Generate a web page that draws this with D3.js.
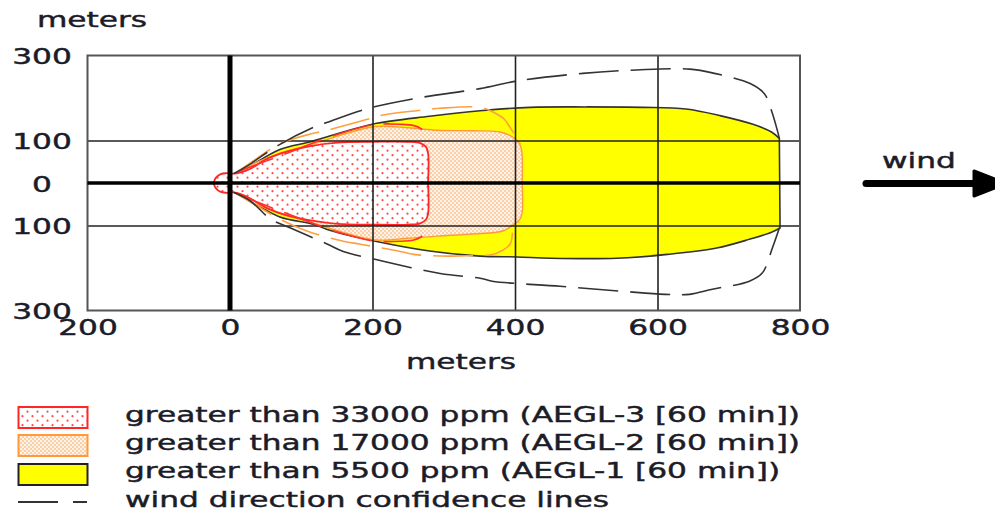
<!DOCTYPE html>
<html><head><meta charset="utf-8">
<script src="https://cdn.jsdelivr.net/npm/d3@7"></script>
<style>body{margin:0;background:#fff}svg{display:block}</style>
</head><body>
<svg id="c" width="995" height="511"></svg>
<script>
// ---- data (meters) ----
const xTicks = [-200, 0, 200, 400, 600, 800];
const yTicks = [300, 100, 0, -100, -300];
const xGrid = [200, 400, 600];
const yGrid = [100, -100];

const yellowTop = [[3,19],[24,36],[70,79],[113,97],[141,111],[201,139],[280,157],[351,170],[421,178],[500,179],[580,178],[640,174],[689,158],[734,138],[760,120],[771,105]];
const yellowBottom = [[3,-19],[29,-43],[70,-80],[117,-97],[141,-112],[204,-137],[280,-160],[351,-172],[403,-174],[450,-177],[543,-177],[614,-168],[683,-153],[730,-132],[760,-116],[772,-106]];

const orangeTop = [[5,20],[29,42],[70,70],[113,90],[160,115],[204,133],[250,130],[291,124],[340,123],[379,120],[395,110],[405,96],[409,80],[410,0]];
const orangeBottom = [[5,-20],[29,-44],[70,-72],[113,-92],[160,-117],[204,-134],[250,-130],[291,-125],[340,-120],[383,-113],[397,-99],[407,-85],[410,-70],[410,0]];

const redTop = [[-23,0],[-20,12],[-13,21],[-5,23],[5,22],[15,25],[28,33],[52,57],[80,74],[113,87],[151,95],[200,97],[250,97],[267,94],[275,85],[278,70],[278,0]];
const redBottom = [[-23,0],[-20,-12],[-13,-21],[-5,-23],[5,-22],[15,-26],[28,-36],[52,-59],[80,-76],[113,-88],[151,-96],[200,-98],[250,-98],[267,-95],[275,-86],[278,-72],[278,0]];

const confBlackTop = [[5,22],[25,41],[67,88],[117,131],[137,143],[193,175],[267,201],[351,222],[403,240],[495,258],[571,266],[645,268],[680,258],[730,234],[750,210],[760,170],[768,125],[771,105]];
const confBlackBottom = [[5,-22],[29,-43],[57,-85],[85,-106],[137,-144],[159,-161],[215,-184],[295,-213],[351,-224],[368,-231],[463,-243],[552,-255],[610,-262],[645,-262],[677,-250],[729,-231],[747,-212],[761,-154],[771,-106]];

const confOrangeTop = [[10,26],[29,48],[71,93],[117,117],[141,126],[193,150],[215,160],[267,171],[295,176],[351,178],[369,167],[385,150],[393,131],[403,105],[408,92]];
const confOrangeBottom = [[10,-26],[38,-54],[70,-85],[108,-113],[159,-137],[183,-144],[239,-161],[258,-168],[305,-172],[351,-170],[369,-168],[393,-144],[398,-106],[406,-92]];

const confRedTop = [[8,24],[40,45],[80,70],[113,92],[150,114],[200,137],[240,138],[258,135],[268,128],[275,115],[278,100]];
const confRedBottom = [[8,-24],[40,-46],[80,-72],[113,-93],[150,-115],[200,-136],[240,-137],[258,-134],[268,-127],[275,-114],[278,-100]];

const legendLabels = [
  "greater than 33000 ppm (AEGL-3 [60 min])",
  "greater than 17000 ppm (AEGL-2 [60 min])",
  "greater than 5500 ppm (AEGL-1 [60 min])",
  "wind direction confidence lines"
];

// ---- drawing ----
const SX = 1.42;
const FONT = "'DejaVu Sans', Verdana, sans-serif";
const TXT = "#1c1c28";
const svg = d3.select("#c");

const x = d3.scaleLinear().domain([-200, 800]).range([87.5, 800]);
const y = d3.scaleLinear().domain([-300, 300]).range([310.5, 55.5]);

const defs = svg.append("defs");
const pr = defs.append("pattern").attr("id","redDots").attr("patternUnits","userSpaceOnUse").attr("width",10).attr("height",9);
pr.append("rect").attr("width",10).attr("height",9).attr("fill","#fff");
pr.append("circle").attr("cx",2.5).attr("cy",2.2).attr("r",1.1).attr("fill","#ff4a4a");
pr.append("circle").attr("cx",7.5).attr("cy",6.7).attr("r",1.1).attr("fill","#ff4a4a");
const po = defs.append("pattern").attr("id","peach").attr("patternUnits","userSpaceOnUse").attr("width",4).attr("height",4);
po.append("rect").attr("width",4).attr("height",4).attr("fill","#fcd0a6");
po.append("circle").attr("cx",1).attr("cy",1).attr("r",1).attr("fill","#fff");
po.append("circle").attr("cx",3).attr("cy",3).attr("r",1).attr("fill","#fff");

const line = d3.line().x(d => x(d[0])).y(d => y(d[1])).curve(d3.curveCatmullRom.alpha(0.5));
function zonePath(top, bottom) {
  const a = line(top);
  const b = line(bottom.slice().reverse());
  return a + "L" + b.slice(1) + "Z";
}

// zones
svg.append("path").attr("d", zonePath(yellowTop, yellowBottom))
  .attr("fill","#ffff00").attr("stroke","#333").attr("stroke-width",1.6);
svg.append("path").attr("d", zonePath(orangeTop, orangeBottom))
  .attr("fill","url(#peach)").attr("stroke","#ff9a3c").attr("stroke-width",1.4);
svg.append("path").attr("d", zonePath(redTop, redBottom))
  .attr("fill","url(#redDots)").attr("stroke","#ff2626").attr("stroke-width",1.8);

// grid
const gg = svg.append("g");
gg.append("g").attr("transform",`translate(0,${y(-300)})`)
  .call(d3.axisBottom(x).tickValues(xGrid).tickSize(-(y(-300)-y(300))).tickFormat(""))
  .call(g => g.select(".domain").remove())
  .call(g => g.selectAll("line").attr("stroke","#222").attr("stroke-width",1.6));
gg.append("g").attr("transform",`translate(${x(-200)},0)`)
  .call(d3.axisRight(y).tickValues(yGrid).tickSize(x(800)-x(-200)).tickFormat(""))
  .call(g => g.select(".domain").remove())
  .call(g => g.selectAll("line").attr("stroke","#222").attr("stroke-width",1.6));

// frame
svg.append("rect").attr("x",x(-200)).attr("y",y(300)).attr("width",x(800)-x(-200)).attr("height",y(-300)-y(300))
  .attr("fill","none").attr("stroke","#555").attr("stroke-width",2);

// thick axes at 0
svg.append("line").attr("x1",x(0)).attr("x2",x(0)).attr("y1",y(300)).attr("y2",y(-300)).attr("stroke","#000").attr("stroke-width",5);
svg.append("line").attr("x1",x(-200)).attr("x2",x(800)).attr("y1",y(0)).attr("y2",y(0)).attr("stroke","#000").attr("stroke-width",3.5);

// confidence lines
const dash = "40,12";
const plainLine = d3.line().x(d => x(d[0])).y(d => y(d[1])).curve(d3.curveCatmullRom.alpha(0.5));
[[confRedTop,"#ff3030"],[confRedBottom,"#ff3030"],[confOrangeTop,"#ffa040"],[confOrangeBottom,"#ffa040"],[confBlackTop,"#333"],[confBlackBottom,"#333"]]
  .forEach(([pts,col]) => {
    svg.append("path").attr("d", plainLine(pts)).attr("fill","none").attr("stroke",col)
      .attr("stroke-width",1.6).attr("stroke-dasharray",dash);
  });

// text helper
function txt(x0, y0, s, anchor, size) {
  return svg.append("text").attr("transform",`translate(${x0},${y0}) scale(${SX},1)`)
    .attr("text-anchor",anchor).attr("font-family",FONT).attr("font-size",size||22)
    .attr("fill",TXT).attr("stroke",TXT).attr("stroke-width",0.45).text(s);
}

// axes labels via d3 axes
const gx = svg.append("g").attr("transform","translate(0,335)")
  .call(d3.axisBottom(x).tickValues(xTicks).tickSize(0).tickFormat(d => Math.abs(d)));
gx.select(".domain").remove();
gx.attr("font-family",FONT).attr("font-size",22).attr("color",TXT);
gx.selectAll("text").attr("y",0).attr("dy",0).attr("transform",`scale(${SX},1)`)
  .attr("stroke",TXT).attr("stroke-width",0.45);

const gy = svg.append("g").attr("transform","translate(42,0)")
  .call(d3.axisLeft(y).tickValues(yTicks).tickSize(0).tickFormat(d => Math.abs(d)));
gy.select(".domain").remove();
gy.attr("font-family",FONT).attr("font-size",22).attr("color",TXT);
gy.selectAll("text").attr("x",0).attr("dy",0).attr("y",8).attr("text-anchor","middle").attr("transform",`scale(${SX},1)`)
  .attr("stroke",TXT).attr("stroke-width",0.45);

txt(92, 27, "meters", "middle");
txt(461, 369, "meters", "middle");

// wind arrow
txt(919, 168, "wind", "middle");
svg.append("line").attr("x1",866).attr("x2",976).attr("y1",183.5).attr("y2",183.5)
  .attr("stroke","#000").attr("stroke-width",7).attr("stroke-linecap","round");
svg.append("path").attr("d","M974,171 L1006,183.5 L974,196 Z").attr("fill","#000")
  .attr("stroke","#000").attr("stroke-width",3).attr("stroke-linejoin","round");

// legend
const ly = [407, 435, 464];
const fills = ["url(#redDots)","url(#peach)","#ffff00"];
const strokes = ["#ff2626","#ff9a3c","#222"];
ly.forEach((yy,i) => {
  svg.append("rect").attr("x",18.5).attr("y",yy).attr("width",69).attr("height",21)
    .attr("fill",fills[i]).attr("stroke",strokes[i]).attr("stroke-width",2);
});
svg.append("line").attr("x1",18).attr("x2",87).attr("y1",502).attr("y2",502)
  .attr("stroke","#333").attr("stroke-width",2).attr("stroke-dasharray","40,15");
const lb = [422, 450, 478, 507];
legendLabels.forEach((s,i) => txt(125, lb[i], s, "start"));
</script>
</body></html>
